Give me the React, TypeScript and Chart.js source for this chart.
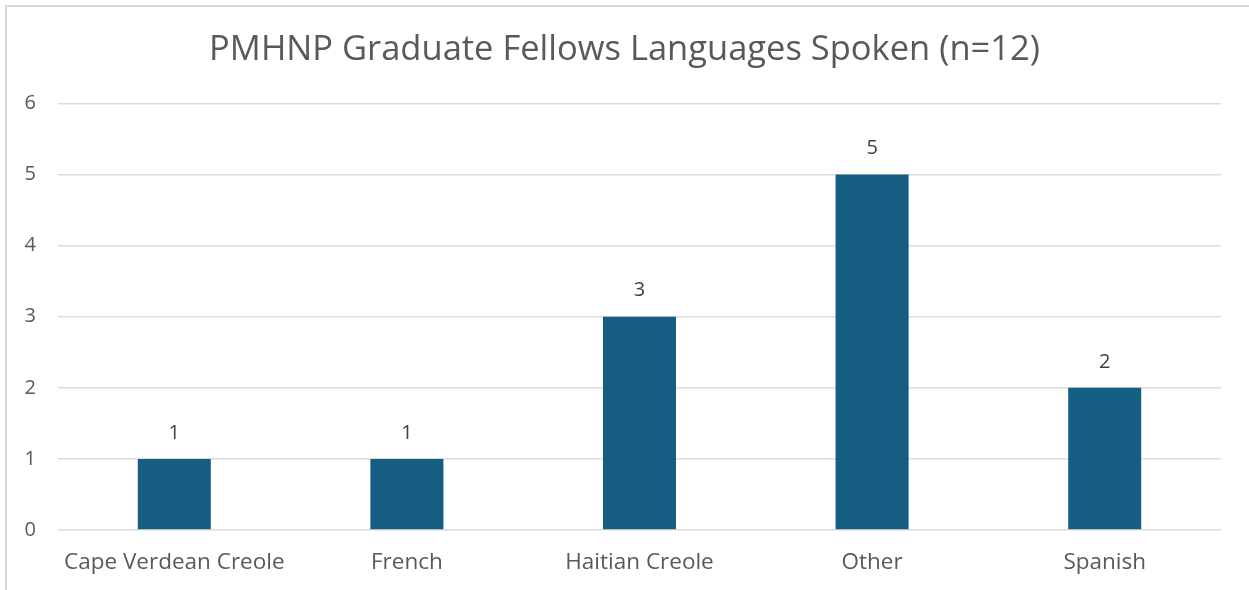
import React, { useEffect, useRef } from "react";
import { Chart, registerables } from "chart.js";

Chart.register(...registerables);

const categories: string[] = ["Cape Verdean Creole", "French", "Haitian Creole", "Other", "Spanish"];
const counts: number[] = [1, 1, 3, 5, 2];
const chartTitle = "PMHNP Graduate Fellows Languages Spoken (n=12)";
const yMin = 0;
const yMax = 6;
const yStep = 1;

const FONT = "'Open Sans', 'Liberation Sans', sans-serif";

const frame = {
  id: "frame",
  beforeDraw(chart: any) {
    const { ctx, width, height } = chart;
    ctx.save();
    ctx.fillStyle = "#ffffff";
    ctx.fillRect(0, 0, width, height);
    ctx.strokeStyle = "#d9d9d9";
    ctx.lineWidth = 2;
    ctx.beginPath();
    ctx.moveTo(6, height + 5);
    ctx.lineTo(6, 6);
    ctx.lineTo(width + 5, 6);
    ctx.stroke();
    ctx.restore();
  },
};

const valueLabels = {
  id: "valueLabels",
  afterDatasetsDraw(chart: any) {
    const { ctx } = chart;
    const meta = chart.getDatasetMeta(0);
    ctx.save();
    ctx.fillStyle = "#404040";
    ctx.font = `20px ${FONT}`;
    ctx.textAlign = "center";
    ctx.textBaseline = "middle";
    meta.data.forEach((el: any, i: number) => {
      ctx.fillText(String(chart.data.datasets[0].data[i]), el.x, el.y - 26);
    });
    ctx.restore();
  },
};

export default function App() {
  const ref = useRef<HTMLCanvasElement | null>(null);
  useEffect(() => {
    if (!ref.current) return;
    const chart = new Chart(ref.current, {
      type: "bar",
      data: {
        labels: categories,
        datasets: [
          {
            data: counts,
            backgroundColor: "#165E81",
            barPercentage: 0.314,
            categoryPercentage: 1,
          },
        ],
      },
      options: {
        animation: false,
        responsive: false,
        maintainAspectRatio: false,
        layout: { padding: { left: 0, right: 0, top: 0, bottom: 0 } },
        plugins: {
          legend: { display: false },
          tooltip: { enabled: false },
          title: {
            display: true,
            text: chartTitle,
            color: "#595959",
            font: { family: FONT, size: 34.5, weight: "normal" },
            padding: { top: 29, bottom: 33 },
          },
        },
        scales: {
          x: {
            grid: { display: false, drawTicks: false },
            border: { display: false },
            ticks: { color: "#595959", font: { family: FONT, size: 22.5 }, padding: 19, maxRotation: 0 },
            afterFit: (s: any) => { s.height = 60; },
          },
          y: {
            min: yMin,
            max: yMax,
            grid: { color: "#dcdcdc", lineWidth: 1.5, drawTicks: false },
            border: { display: false },
            ticks: { stepSize: yStep, color: "#595959", font: { family: FONT, size: 20 }, padding: 22, align: "center" },
            afterFit: (s: any) => { s.width = 58; },
          },
          yRight: {
            position: "right",
            min: yMin,
            max: yMax,
            grid: { display: false, drawTicks: false },
            border: { display: false },
            ticks: { display: false },
            afterFit: (s: any) => { s.width = 28; },
          },
        },
      },
      plugins: [frame, valueLabels],
    });
    return () => chart.destroy();
  }, []);
  return (
    <div style={{ position: "absolute", left: 0, top: 0, width: 1249, height: 590 }}>
      <canvas ref={ref} width={1249} height={590} />
    </div>
  );
}
